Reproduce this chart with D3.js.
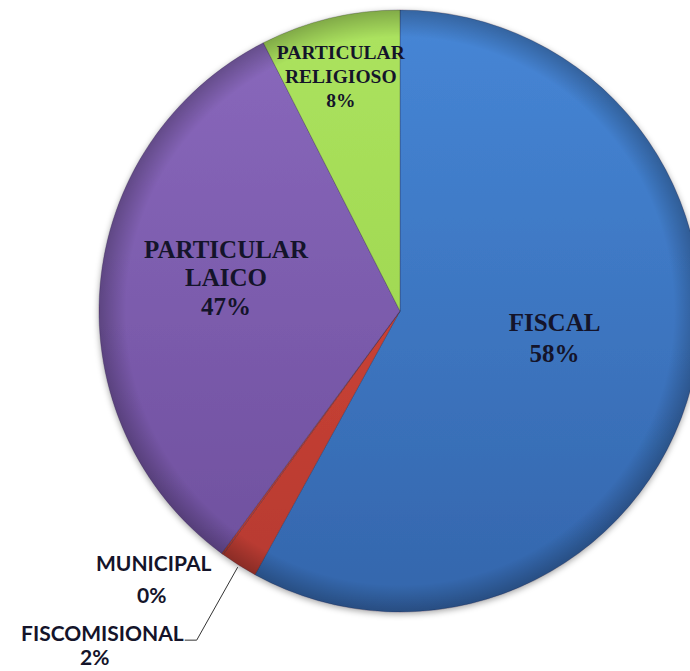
<!DOCTYPE html>
<html>
<head>
<meta charset="utf-8">
<script src="https://cdn.jsdelivr.net/npm/d3@7"></script>
<style>
  html, body { margin: 0; padding: 0; background: #ffffff; }
  svg { display: block; }
</style>
</head>
<body>
<div id="chart"></div>
<script>
document.addEventListener('DOMContentLoaded', function(e) {

    // slices in Excel order, clockwise from 12 o'clock
    var categories = ['FISCAL', 'FISCOMISIONAL', 'MUNICIPAL', 'PARTICULAR LAICO', 'PARTICULAR RELIGIOSO']
    // shares
    var values = [58, 2, 0.1, 32.4, 7.5]
    // percentages as printed on the chart
    var percentLabels = ['58%', '2%', '0%', '47%', '8%']

    var colors = d3.scaleOrdinal()
        .domain(categories)
        .range([['#4686d6', '#3466ac'], ['#dc4a3c', '#b5392f'], ['#dc4a3c', '#b5392f'],
                ['#8a69bd', '#6d4e9c'], ['#ace35f', '#96cf47']])

    var width = 690, height = 671
    var cx = 400, cy = 311, radius = 301

    var svg = d3.select('#chart').append('svg')
        .attr('width', width)
        .attr('height', height)

    var defs = svg.append('defs')

    var shadow = defs.append('filter')
        .attr('id', 'shadow')
        .attr('x', '-10%').attr('y', '-10%')
        .attr('width', '120%').attr('height', '120%')
    shadow.append('feDropShadow')
        .attr('dx', 0).attr('dy', 2)
        .attr('stdDeviation', 3)
        .attr('flood-color', '#000')
        .attr('flood-opacity', 0.35)

    categories.forEach(function(c, i) {
        var g = defs.append('linearGradient')
            .attr('id', 'grad' + i)
            .attr('gradientUnits', 'userSpaceOnUse')
            .attr('x1', 0).attr('x2', 0)
            .attr('y1', -radius).attr('y2', radius)
        g.append('stop').attr('offset', '0%').attr('stop-color', colors(c)[0])
        g.append('stop').attr('offset', '100%').attr('stop-color', colors(c)[1])
    })

    var rim = defs.append('radialGradient')
        .attr('id', 'rim')
        .attr('gradientUnits', 'userSpaceOnUse')
        .attr('cx', 0).attr('cy', 0).attr('r', radius)
    rim.append('stop').attr('offset', '91%').attr('stop-color', '#000').attr('stop-opacity', 0)
    rim.append('stop').attr('offset', '100%').attr('stop-color', '#000').attr('stop-opacity', 0.25)

    var pie = d3.pie()
        .sort(null)
        .value(function(d) { return d })

    var arc = d3.arc()
        .innerRadius(0)
        .outerRadius(radius)

    var arcs = pie(values)

    var pieG = svg.append('g')
        .attr('transform', 'translate(' + cx + ',' + cy + ')')

    var slices = pieG.append('g').attr('filter', 'url(#shadow)')

    slices.selectAll('path')
        .data(arcs)
        .enter().append('path')
        .attr('d', arc)
        .style('fill', function(d, i) { return 'url(#grad' + i + ')' })
        .style('stroke', 'rgba(40,30,60,0.35)')
        .style('stroke-width', 0.8)

    pieG.append('circle')
        .attr('r', radius)
        .style('fill', 'url(#rim)')
        .style('pointer-events', 'none')

    // inside labels: radius factor, nudge and font size per slice
    var inside = {
        'FISCAL': { k: 0.53, dx: 0, dy: -12, size: 25, lines: ['FISCAL'], gap: 31 },
        'PARTICULAR LAICO': { k: 0.58, dx: 0, dy: -19, size: 25, lines: ['PARTICULAR', 'LAICO'], gap: 28.5 },
        'PARTICULAR RELIGIOSO': { k: 0.80, dx: -3, dy: 0, size: 19.5, lines: ['PARTICULAR', 'RELIGIOSO'], gap: 24 }
    }

    arcs.forEach(function(d, i) {
        var cat = categories[i]
        var conf = inside[cat]
        if (!conf) return
        var mid = (d.startAngle + d.endAngle) / 2
        var x = Math.sin(mid) * radius * conf.k + conf.dx
        var y = -Math.cos(mid) * radius * conf.k + conf.dy
        var lines = conf.lines.concat([percentLabels[i]])
        var t = pieG.append('text')
            .attr('text-anchor', 'middle')
            .style('font-family', '"Liberation Serif", "Times New Roman", serif')
            .style('font-weight', 'bold')
            .style('font-size', conf.size + 'px')
            .style('fill', '#14142a')
        var top = y - (lines.length - 1) * conf.gap / 2 + conf.size * 0.33
        lines.forEach(function(l, j) {
            t.append('tspan')
                .attr('x', x)
                .attr('y', top + j * conf.gap)
                .text(l)
        })
    })

    // outside labels with leader line for the thin slices
    var red = arcs[1]
    var redMid = (red.startAngle + red.endAngle) / 2
    var ex = cx + Math.sin(redMid) * radius
    var ey = cy - Math.cos(redMid) * radius

    svg.append('polyline')
        .attr('points', [[ex - 1, ey + 2], [ex - 42, ey + 75], [ex - 54, ey + 75]].join(' '))
        .style('fill', 'none')
        .style('stroke', '#333')
        .style('stroke-width', 1)

    var outStyle = function(sel) {
        sel.attr('text-anchor', 'middle')
            .style('font-family', 'Lato, "Open Sans", sans-serif')
            .style('font-weight', 'bold')
            .style('font-size', '21px')
            .style('fill', '#14142a')
    }

    svg.append('text').call(outStyle)
        .attr('x', ex - 85).attr('y', ey + 6)
        .text(categories[2])
    svg.append('text').call(outStyle)
        .attr('x', ex - 87).attr('y', ey + 38)
        .text(percentLabels[2])

    svg.append('text').call(outStyle)
        .attr('text-anchor', 'end')
        .attr('x', ex - 55).attr('y', ey + 76)
        .text(categories[1])
    svg.append('text').call(outStyle)
        .attr('x', ex - 144).attr('y', ey + 100)
        .text(percentLabels[1])

})
</script>
</body>
</html>
